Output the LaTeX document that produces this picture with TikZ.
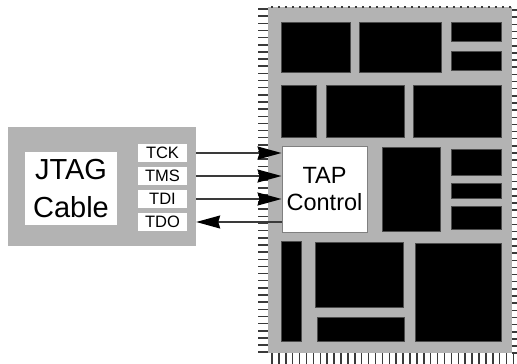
\documentclass[tikz,border=0pt]{standalone}
\usepackage{fontspec}
\setmainfont{Liberation Sans}
\usetikzlibrary{arrows.meta}

\definecolor{chipgray}{HTML}{B3B3B3}
\definecolor{wiregray}{HTML}{3A3A3A}

\begin{document}
\begin{tikzpicture}[x=1pt,y=-1pt,
  cablebox/.style={fill=chipgray, minimum width=188pt, minimum height=119pt, inner sep=0pt},
  namebox/.style={fill=white, minimum width=92pt, minimum height=73pt, inner sep=0pt, align=center,
    font=\fontsize{29}{38}\selectfont},
  pinlabel/.style={fill=white, minimum width=49pt, minimum height=18pt, inner sep=0pt,
    font=\fontsize{16.5}{16.5}\selectfont},
  tapbox/.style={fill=white, draw=gray, line width=1pt, minimum width=85pt, minimum height=86pt,
    inner sep=0pt, align=center, font=\fontsize{23.5}{27}\selectfont},
  block/.style={fill=black, draw=gray!60!black, line width=0.8pt},
  pin/.style={draw=wiregray, line width=1.5pt},
  sig/.style={draw=wiregray, line width=1.4pt, -{Stealth[length=24pt,width=13pt,inset=2pt,color=black]}}]

\useasboundingbox (0,0) rectangle (517,364);

% chip body
\fill[chipgray] (268,7) rectangle (512,353);
% pins
\foreach \i in {0,...,48} {
  \draw[pin] (258,{9+7.15*\i}) -- (268,{9+7.15*\i});
  \draw[pin] (512,{10+7.15*\i}) -- (517,{10+7.15*\i});
}
\foreach \i in {0,...,35}
  \draw[pin] ({272+6.9*\i},353) -- ({272+6.9*\i},364);
\foreach \i in {0,...,34}
  \fill[wiregray] ({271+7*\i},6) rectangle ({273+7*\i},8);

% blocks of the chip
\foreach \xa/\ya/\xb/\yb in {281/22/350/72, 359/22/441/72, 451/22/501/41, 451/51/501/70,
    281/85/316/137, 326/85/404/137, 413/85/501/137,
    382/147/440/231, 451/149/501/175, 451/183/501/198, 451/206/501/229,
    281/241/301/341, 315/242/403/307, 317/317/404/341, 415/243/501/341}
  \draw[block] (\xa,\ya) rectangle (\xb,\yb);

% TAP controller
\node[tapbox] (tap) at (324.5,189) {TAP\\Control};

% cable
\node[cablebox] (cable) at (102,186.5) {};
\node[namebox] (jtag) at (71,188.5) {JTAG\\Cable};
\node[pinlabel] (tck) at (162.5,153) {TCK};
\node[pinlabel] (tms) at (162.5,176) {TMS};
\node[pinlabel] (tdi) at (162.5,199) {TDI};
\node[pinlabel] (tdo) at (162.5,222) {TDO};

% signals
\draw[sig] (cable.east |- tck) -- (tap.west |- tck);
\draw[sig] (cable.east |- tms) -- (tap.west |- tms);
\draw[sig] (cable.east |- tdi) -- (tap.west |- tdi);
\draw[sig] (tap.west |- tdo) -- (cable.east |- tdo);

\end{tikzpicture}
\end{document}
